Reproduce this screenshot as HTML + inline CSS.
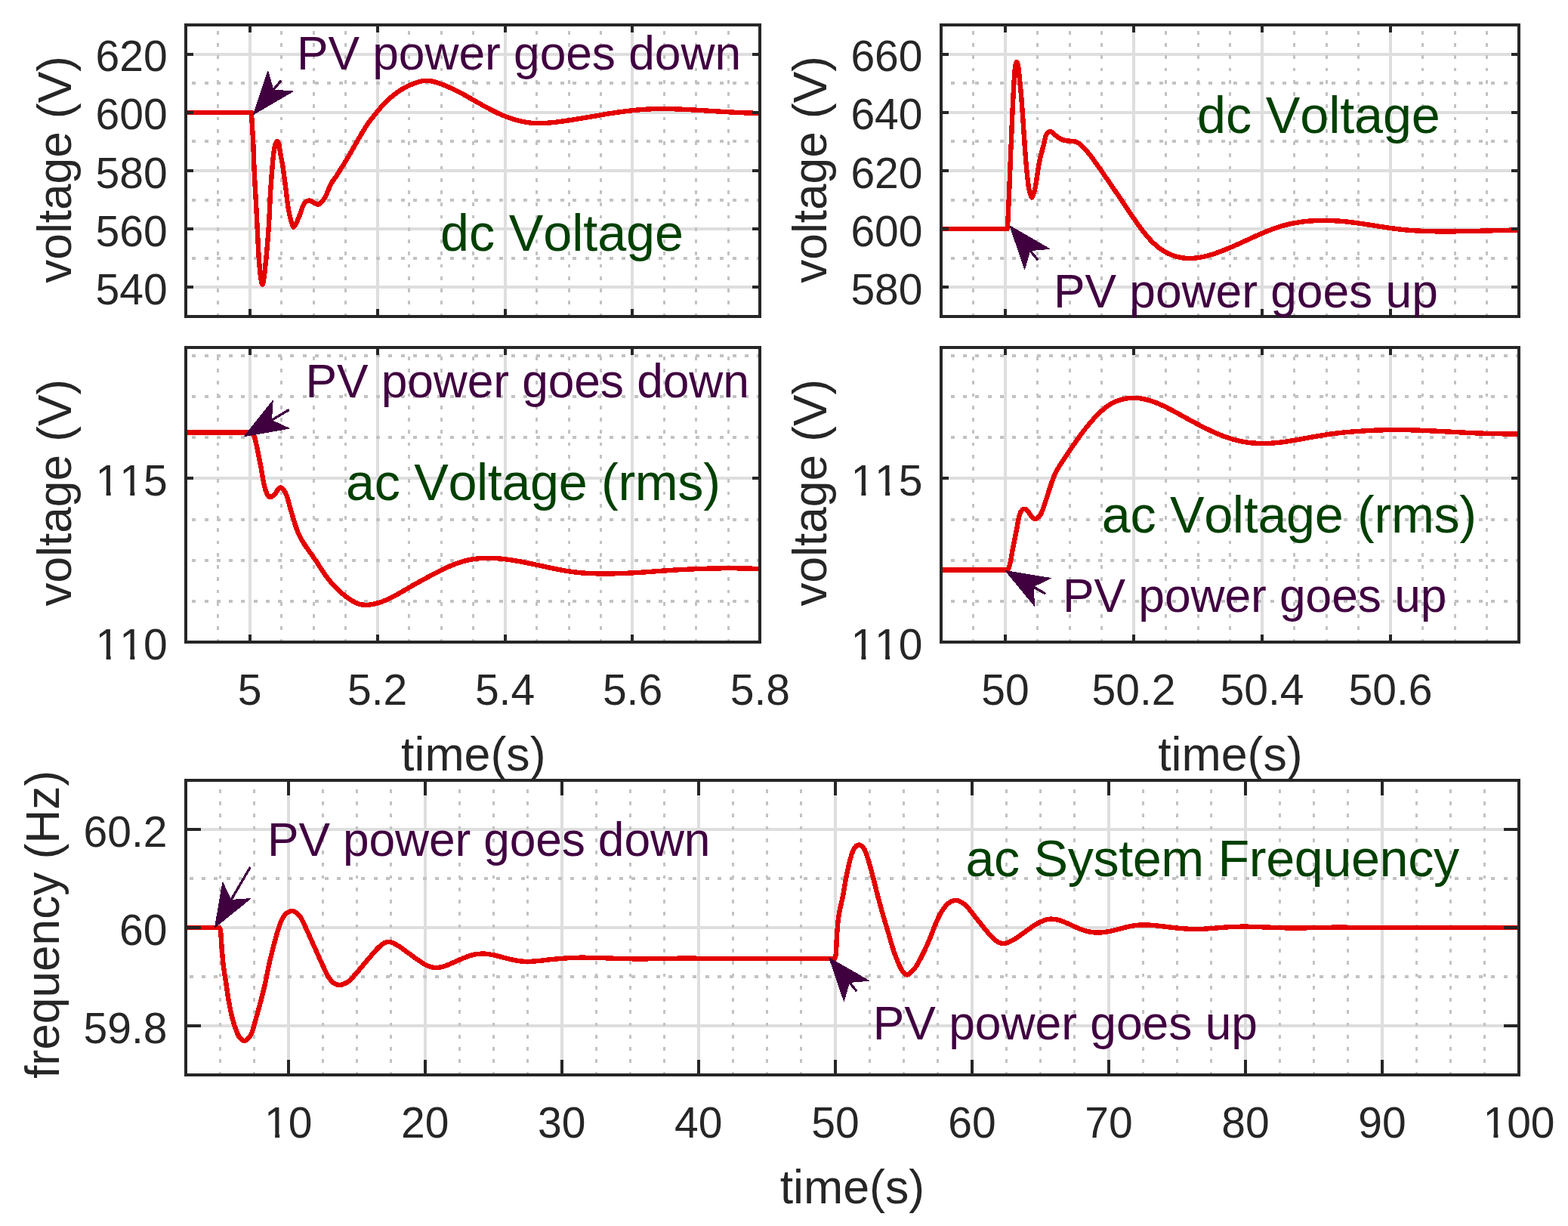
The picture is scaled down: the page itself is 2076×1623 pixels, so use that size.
<!DOCTYPE html>
<html><head><meta charset="utf-8"><style>
html,body{margin:0;padding:0;background:#fff;width:2076px;height:1623px;overflow:hidden}
svg{display:block}
text{font-family:'Liberation Sans', Arial, Helvetica, sans-serif;font-kerning:none;}
.tk{font-size:57px;fill:#262626}
.lb{font-size:62.7px;fill:#262626}
.yl{font-size:62.2px}
.pv{font-size:62.3px;fill:#400040}
.tt{font-size:68.3px;fill:#004000}
</style></head><body>
<svg width="2076" height="1623" viewBox="0 0 2076 1623">
<rect width="2076" height="1623" fill="#fff"/>
<g id="s1">
<line x1="330.67" y1="33" x2="330.67" y2="419" stroke="#dedede" stroke-width="4" shape-rendering="crispEdges"/>
<line x1="499.60" y1="33" x2="499.60" y2="419" stroke="#dedede" stroke-width="4" shape-rendering="crispEdges"/>
<line x1="668.53" y1="33" x2="668.53" y2="419" stroke="#dedede" stroke-width="4" shape-rendering="crispEdges"/>
<line x1="837.47" y1="33" x2="837.47" y2="419" stroke="#dedede" stroke-width="4" shape-rendering="crispEdges"/>
<line x1="246.2" y1="380.40" x2="1006.4" y2="380.40" stroke="#dedede" stroke-width="4" shape-rendering="crispEdges"/>
<line x1="246.2" y1="303.20" x2="1006.4" y2="303.20" stroke="#dedede" stroke-width="4" shape-rendering="crispEdges"/>
<line x1="246.2" y1="226.00" x2="1006.4" y2="226.00" stroke="#dedede" stroke-width="4" shape-rendering="crispEdges"/>
<line x1="246.2" y1="148.80" x2="1006.4" y2="148.80" stroke="#dedede" stroke-width="4" shape-rendering="crispEdges"/>
<line x1="246.2" y1="71.60" x2="1006.4" y2="71.60" stroke="#dedede" stroke-width="4" shape-rendering="crispEdges"/>
<line x1="288.43" y1="419.5" x2="288.43" y2="33" stroke="#c2c2c2" stroke-width="3" shape-rendering="crispEdges" stroke-dasharray="4.8 11.46"/>
<line x1="372.90" y1="419.5" x2="372.90" y2="33" stroke="#c2c2c2" stroke-width="3" shape-rendering="crispEdges" stroke-dasharray="4.8 11.46"/>
<line x1="415.13" y1="419.5" x2="415.13" y2="33" stroke="#c2c2c2" stroke-width="3" shape-rendering="crispEdges" stroke-dasharray="4.8 11.46"/>
<line x1="457.37" y1="419.5" x2="457.37" y2="33" stroke="#c2c2c2" stroke-width="3" shape-rendering="crispEdges" stroke-dasharray="4.8 11.46"/>
<line x1="541.83" y1="419.5" x2="541.83" y2="33" stroke="#c2c2c2" stroke-width="3" shape-rendering="crispEdges" stroke-dasharray="4.8 11.46"/>
<line x1="584.07" y1="419.5" x2="584.07" y2="33" stroke="#c2c2c2" stroke-width="3" shape-rendering="crispEdges" stroke-dasharray="4.8 11.46"/>
<line x1="626.30" y1="419.5" x2="626.30" y2="33" stroke="#c2c2c2" stroke-width="3" shape-rendering="crispEdges" stroke-dasharray="4.8 11.46"/>
<line x1="710.77" y1="419.5" x2="710.77" y2="33" stroke="#c2c2c2" stroke-width="3" shape-rendering="crispEdges" stroke-dasharray="4.8 11.46"/>
<line x1="753.00" y1="419.5" x2="753.00" y2="33" stroke="#c2c2c2" stroke-width="3" shape-rendering="crispEdges" stroke-dasharray="4.8 11.46"/>
<line x1="795.23" y1="419.5" x2="795.23" y2="33" stroke="#c2c2c2" stroke-width="3" shape-rendering="crispEdges" stroke-dasharray="4.8 11.46"/>
<line x1="879.70" y1="419.5" x2="879.70" y2="33" stroke="#c2c2c2" stroke-width="3" shape-rendering="crispEdges" stroke-dasharray="4.8 11.46"/>
<line x1="921.93" y1="419.5" x2="921.93" y2="33" stroke="#c2c2c2" stroke-width="3" shape-rendering="crispEdges" stroke-dasharray="4.8 11.46"/>
<line x1="964.17" y1="419.5" x2="964.17" y2="33" stroke="#c2c2c2" stroke-width="3" shape-rendering="crispEdges" stroke-dasharray="4.8 11.46"/>
<line x1="1007.1999999999999" y1="341.80" x2="246.2" y2="341.80" stroke="#c2c2c2" stroke-width="4" shape-rendering="crispEdges" stroke-dasharray="5 11.26"/>
<line x1="1007.1999999999999" y1="264.60" x2="246.2" y2="264.60" stroke="#c2c2c2" stroke-width="4" shape-rendering="crispEdges" stroke-dasharray="5 11.26"/>
<line x1="1007.1999999999999" y1="187.40" x2="246.2" y2="187.40" stroke="#c2c2c2" stroke-width="4" shape-rendering="crispEdges" stroke-dasharray="5 11.26"/>
<line x1="1007.1999999999999" y1="110.20" x2="246.2" y2="110.20" stroke="#c2c2c2" stroke-width="4" shape-rendering="crispEdges" stroke-dasharray="5 11.26"/>
<clipPath id="cs1"><rect x="246.2" y="33" width="760.2" height="386"/></clipPath>
<path d="M244.00,149.00C244.00,149.00 333.00,149.00 333.00,149.00C333.00,149.00 333.17,153.67 333.30,156.00C333.90,166.67 334.68,177.33 335.20,188.00C335.72,198.69 335.93,209.40 336.40,220.10C336.87,230.77 337.43,241.44 338.00,252.10C338.23,256.40 338.57,260.70 338.80,265.00C339.37,275.66 339.87,286.33 340.40,297.00C340.93,307.67 341.39,318.34 342.00,329.00C342.46,337.04 342.92,345.08 343.60,353.10C344.02,358.08 344.51,363.07 345.30,368.00C345.78,370.97 346.70,376.80 347.40,376.80C348.10,376.80 349.02,370.97 349.50,368.00C350.29,363.07 350.68,358.07 351.20,353.10C352.04,345.07 352.91,337.04 353.60,329.00C354.51,318.34 355.33,307.67 356.00,297.00C356.56,288.01 356.86,279.00 357.30,270.00C357.59,264.03 357.81,258.06 358.20,252.10C358.91,241.43 359.71,230.76 360.60,220.10C361.05,214.76 361.56,209.42 362.20,204.10C362.56,201.05 362.98,198.00 363.60,195.00C363.98,193.13 364.46,191.23 365.20,189.50C365.59,188.59 366.40,187.10 367.00,187.10C367.60,187.10 368.47,188.58 368.80,189.50C369.54,191.58 369.81,193.89 370.20,196.10C370.67,198.75 370.94,201.44 371.40,204.10C372.34,209.44 373.58,214.74 374.40,220.10C376.02,230.74 377.33,241.43 378.70,252.10C379.29,256.73 379.67,261.38 380.30,266.00C380.94,270.68 381.61,275.36 382.50,280.00C383.34,284.36 384.25,288.75 385.50,293.00C386.28,295.65 387.32,300.11 388.60,300.70C389.49,301.11 391.08,297.69 392.00,296.00C393.38,293.46 394.36,290.68 395.50,288.00C396.32,286.08 397.19,284.17 397.90,282.20C398.93,279.33 399.51,276.28 400.70,273.50C401.54,271.55 402.51,269.42 404.00,268.00C405.38,266.68 407.51,265.33 409.30,265.30C411.14,265.27 413.04,266.95 414.90,267.80C416.97,268.75 419.12,270.79 421.10,270.70C422.82,270.62 424.66,268.72 426.00,267.30C427.86,265.32 429.33,262.88 430.70,260.50C431.93,258.35 432.81,255.98 433.80,253.70C434.78,251.45 435.55,249.11 436.60,246.90C437.68,244.61 438.85,242.34 440.20,240.20C441.69,237.84 443.53,235.71 445.10,233.40C446.27,231.68 447.30,229.87 448.40,228.10C451.73,222.77 455.15,217.48 458.40,212.10C461.59,206.82 464.61,201.44 467.70,196.10C470.78,190.77 473.74,185.38 476.90,180.10C480.14,174.68 483.29,169.17 486.90,164.00C490.76,158.47 495.02,153.21 499.30,148.00C502.66,143.92 506.11,139.89 509.83,136.14C513.62,132.30 517.58,128.53 521.83,125.22C526.03,121.96 530.55,119.03 535.17,116.42C539.28,114.10 543.63,112.13 548.03,110.44C551.53,109.08 555.19,107.84 558.87,107.27C562.24,106.74 565.82,106.66 569.19,107.14C573.59,107.75 577.96,109.10 582.19,110.55C587.52,112.38 592.73,114.64 597.86,116.99C603.01,119.35 608.04,121.99 613.04,124.66C617.55,127.06 621.94,129.67 626.38,132.19C630.61,134.59 634.80,137.05 639.06,139.39C643.33,141.74 647.61,144.08 651.97,146.26C656.26,148.42 660.58,150.53 665.00,152.40C669.28,154.21 673.65,155.90 678.07,157.33C682.29,158.69 686.61,159.84 690.94,160.77C694.98,161.63 699.08,162.31 703.19,162.72C707.42,163.14 711.71,163.33 715.97,163.24C721.59,163.12 727.23,162.67 732.82,162.07C740.54,161.24 748.23,160.11 755.91,158.93C765.06,157.53 774.18,155.86 783.31,154.33C792.77,152.75 802.20,151.02 811.67,149.60C820.51,148.28 829.37,147.04 838.26,146.09C845.89,145.28 853.55,144.68 861.21,144.32C868.15,143.99 875.11,143.96 882.06,144.04C889.76,144.13 897.45,144.47 905.14,144.82C914.06,145.23 922.98,145.80 931.90,146.32C941.12,146.87 950.33,147.51 959.54,148.03C968.02,148.51 976.50,148.96 984.98,149.30C992.65,149.61 1008.00,150.00 1008.00,150.00" fill="none" stroke="#e40000" stroke-width="6.4" shape-rendering="crispEdges" stroke-linejoin="round" stroke-linecap="round" clip-path="url(#cs1)"/>
<path d="M246.2,33H1006.4V419H246.2ZM330.67,419v-8M330.67,33v8M499.60,419v-8M499.60,33v8M668.53,419v-8M668.53,33v8M837.47,419v-8M837.47,33v8M246.2,380.40h8M1006.4,380.40h-8M246.2,303.20h8M1006.4,303.20h-8M246.2,226.00h8M1006.4,226.00h-8M246.2,148.80h8M1006.4,148.80h-8M246.2,71.60h8M1006.4,71.60h-8" fill="none" stroke="#262626" stroke-width="4" stroke-linecap="square" shape-rendering="crispEdges"/>
<text x="221.7" y="402.9" text-anchor="end" class="tk">540</text>
<text x="221.7" y="325.7" text-anchor="end" class="tk">560</text>
<text x="221.7" y="248.5" text-anchor="end" class="tk">580</text>
<text x="221.7" y="171.3" text-anchor="end" class="tk">600</text>
<text x="221.7" y="94.1" text-anchor="end" class="tk">620</text>
</g>
<g id="s2">
<line x1="1331.00" y1="33" x2="1331.00" y2="419" stroke="#dedede" stroke-width="4" shape-rendering="crispEdges"/>
<line x1="1501.00" y1="33" x2="1501.00" y2="419" stroke="#dedede" stroke-width="4" shape-rendering="crispEdges"/>
<line x1="1671.00" y1="33" x2="1671.00" y2="419" stroke="#dedede" stroke-width="4" shape-rendering="crispEdges"/>
<line x1="1841.00" y1="33" x2="1841.00" y2="419" stroke="#dedede" stroke-width="4" shape-rendering="crispEdges"/>
<line x1="1246" y1="380.40" x2="2011" y2="380.40" stroke="#dedede" stroke-width="4" shape-rendering="crispEdges"/>
<line x1="1246" y1="303.20" x2="2011" y2="303.20" stroke="#dedede" stroke-width="4" shape-rendering="crispEdges"/>
<line x1="1246" y1="226.00" x2="2011" y2="226.00" stroke="#dedede" stroke-width="4" shape-rendering="crispEdges"/>
<line x1="1246" y1="148.80" x2="2011" y2="148.80" stroke="#dedede" stroke-width="4" shape-rendering="crispEdges"/>
<line x1="1246" y1="71.60" x2="2011" y2="71.60" stroke="#dedede" stroke-width="4" shape-rendering="crispEdges"/>
<line x1="1288.50" y1="419.5" x2="1288.50" y2="33" stroke="#c2c2c2" stroke-width="3" shape-rendering="crispEdges" stroke-dasharray="4.8 11.46"/>
<line x1="1373.50" y1="419.5" x2="1373.50" y2="33" stroke="#c2c2c2" stroke-width="3" shape-rendering="crispEdges" stroke-dasharray="4.8 11.46"/>
<line x1="1416.00" y1="419.5" x2="1416.00" y2="33" stroke="#c2c2c2" stroke-width="3" shape-rendering="crispEdges" stroke-dasharray="4.8 11.46"/>
<line x1="1458.50" y1="419.5" x2="1458.50" y2="33" stroke="#c2c2c2" stroke-width="3" shape-rendering="crispEdges" stroke-dasharray="4.8 11.46"/>
<line x1="1543.50" y1="419.5" x2="1543.50" y2="33" stroke="#c2c2c2" stroke-width="3" shape-rendering="crispEdges" stroke-dasharray="4.8 11.46"/>
<line x1="1586.00" y1="419.5" x2="1586.00" y2="33" stroke="#c2c2c2" stroke-width="3" shape-rendering="crispEdges" stroke-dasharray="4.8 11.46"/>
<line x1="1628.50" y1="419.5" x2="1628.50" y2="33" stroke="#c2c2c2" stroke-width="3" shape-rendering="crispEdges" stroke-dasharray="4.8 11.46"/>
<line x1="1713.50" y1="419.5" x2="1713.50" y2="33" stroke="#c2c2c2" stroke-width="3" shape-rendering="crispEdges" stroke-dasharray="4.8 11.46"/>
<line x1="1756.00" y1="419.5" x2="1756.00" y2="33" stroke="#c2c2c2" stroke-width="3" shape-rendering="crispEdges" stroke-dasharray="4.8 11.46"/>
<line x1="1798.50" y1="419.5" x2="1798.50" y2="33" stroke="#c2c2c2" stroke-width="3" shape-rendering="crispEdges" stroke-dasharray="4.8 11.46"/>
<line x1="1883.50" y1="419.5" x2="1883.50" y2="33" stroke="#c2c2c2" stroke-width="3" shape-rendering="crispEdges" stroke-dasharray="4.8 11.46"/>
<line x1="1926.00" y1="419.5" x2="1926.00" y2="33" stroke="#c2c2c2" stroke-width="3" shape-rendering="crispEdges" stroke-dasharray="4.8 11.46"/>
<line x1="1968.50" y1="419.5" x2="1968.50" y2="33" stroke="#c2c2c2" stroke-width="3" shape-rendering="crispEdges" stroke-dasharray="4.8 11.46"/>
<line x1="2011.8" y1="341.80" x2="1246" y2="341.80" stroke="#c2c2c2" stroke-width="4" shape-rendering="crispEdges" stroke-dasharray="5 11.26"/>
<line x1="2011.8" y1="264.60" x2="1246" y2="264.60" stroke="#c2c2c2" stroke-width="4" shape-rendering="crispEdges" stroke-dasharray="5 11.26"/>
<line x1="2011.8" y1="187.40" x2="1246" y2="187.40" stroke="#c2c2c2" stroke-width="4" shape-rendering="crispEdges" stroke-dasharray="5 11.26"/>
<line x1="2011.8" y1="110.20" x2="1246" y2="110.20" stroke="#c2c2c2" stroke-width="4" shape-rendering="crispEdges" stroke-dasharray="5 11.26"/>
<clipPath id="cs2"><rect x="1246" y="33" width="765" height="386"/></clipPath>
<path d="M1244.00,303.20C1244.00,303.20 1333.50,303.20 1333.50,303.20C1333.50,303.20 1334.21,296.27 1334.40,292.80C1334.97,282.54 1335.35,272.27 1335.80,262.00C1336.25,251.73 1336.70,241.47 1337.10,231.20C1337.50,220.93 1337.78,210.66 1338.20,200.40C1338.41,195.26 1338.78,190.14 1339.00,185.00C1339.38,176.24 1339.62,167.46 1340.00,158.70C1340.42,148.83 1340.88,138.96 1341.40,129.10C1341.92,119.26 1342.43,109.43 1343.10,99.60C1343.36,95.73 1343.54,91.81 1344.20,88.00C1344.57,85.87 1345.53,81.80 1346.20,81.80C1346.87,81.80 1347.82,85.87 1348.20,88.00C1348.88,91.81 1349.01,95.73 1349.40,99.60C1350.38,109.43 1351.47,119.26 1352.30,129.10C1353.13,138.96 1353.71,148.83 1354.40,158.70C1355.01,167.47 1355.57,176.24 1356.20,185.00C1356.94,195.27 1357.58,205.55 1358.50,215.80C1359.42,226.08 1360.35,236.38 1361.70,246.60C1362.12,249.78 1362.88,252.94 1363.80,256.00C1364.38,257.94 1365.40,261.60 1366.20,261.60C1367.00,261.60 1367.98,257.93 1368.60,256.00C1369.58,252.93 1370.43,249.78 1371.00,246.60C1372.83,236.38 1373.92,226.01 1375.80,215.80C1376.78,210.48 1378.29,205.25 1379.60,200.00C1380.19,197.65 1380.92,195.35 1381.50,193.00C1382.15,190.35 1382.67,187.66 1383.30,185.00C1383.70,183.33 1383.95,181.58 1384.60,180.00C1385.19,178.58 1385.90,177.00 1387.00,176.00C1388.07,175.03 1389.81,173.95 1391.10,174.10C1392.48,174.26 1393.76,175.94 1395.02,176.93C1396.43,178.04 1397.70,179.31 1399.11,180.40C1400.68,181.61 1402.21,182.95 1403.96,183.83C1405.90,184.81 1408.06,185.52 1410.19,185.98C1412.47,186.48 1414.87,186.47 1417.20,186.73C1419.29,186.96 1421.46,186.94 1423.46,187.47C1425.21,187.94 1426.95,188.74 1428.48,189.71C1430.09,190.74 1431.48,192.16 1432.87,193.49C1434.41,194.97 1435.86,196.54 1437.26,198.14C1439.14,200.27 1440.97,202.45 1442.71,204.70C1445.53,208.35 1448.25,212.10 1450.94,215.86C1454.83,221.29 1458.63,226.80 1462.44,232.29C1466.87,238.68 1471.28,245.08 1475.66,251.50C1480.13,258.03 1484.55,264.59 1488.99,271.15C1493.34,277.58 1497.57,284.10 1502.03,290.46C1506.24,296.47 1510.39,302.56 1515.00,308.25C1519.05,313.26 1523.31,318.19 1528.00,322.57C1531.97,326.28 1536.38,329.68 1541.00,332.53C1545.05,335.03 1549.51,337.05 1554.00,338.60C1558.17,340.05 1562.61,340.98 1567.00,341.53C1571.28,342.07 1575.69,342.11 1580.00,341.85C1584.35,341.60 1588.72,340.88 1593.00,339.99C1597.39,339.07 1601.72,337.78 1606.00,336.41C1610.39,335.02 1614.70,333.38 1619.00,331.71C1623.37,330.02 1627.69,328.19 1632.00,326.35C1636.36,324.48 1640.68,322.51 1645.00,320.56C1649.36,318.59 1653.69,316.55 1658.04,314.58C1662.34,312.65 1666.63,310.69 1670.96,308.85C1675.10,307.09 1679.26,305.36 1683.48,303.79C1687.72,302.21 1691.99,300.67 1696.33,299.41C1701.43,297.93 1706.60,296.57 1711.82,295.58C1718.28,294.36 1724.82,293.38 1731.36,292.79C1738.72,292.12 1746.15,291.81 1753.54,291.82C1761.05,291.84 1768.58,292.26 1776.06,292.87C1783.47,293.47 1790.85,294.44 1798.21,295.43C1805.54,296.42 1812.83,297.67 1820.14,298.79C1827.36,299.89 1834.56,301.14 1841.80,302.11C1849.11,303.09 1856.44,304.01 1863.79,304.64C1871.76,305.32 1879.76,305.76 1887.76,306.04C1896.68,306.35 1905.62,306.41 1914.55,306.42C1924.35,306.42 1934.16,306.25 1943.96,306.07C1954.89,305.88 1965.83,305.57 1976.76,305.29C1988.84,304.98 2013.00,304.30 2013.00,304.30" fill="none" stroke="#e40000" stroke-width="6.4" shape-rendering="crispEdges" stroke-linejoin="round" stroke-linecap="round" clip-path="url(#cs2)"/>
<path d="M1246,33H2011V419H1246ZM1331.00,419v-8M1331.00,33v8M1501.00,419v-8M1501.00,33v8M1671.00,419v-8M1671.00,33v8M1841.00,419v-8M1841.00,33v8M1246,380.40h8M2011,380.40h-8M1246,303.20h8M2011,303.20h-8M1246,226.00h8M2011,226.00h-8M1246,148.80h8M2011,148.80h-8M1246,71.60h8M2011,71.60h-8" fill="none" stroke="#262626" stroke-width="4" stroke-linecap="square" shape-rendering="crispEdges"/>
<text x="1221.5" y="402.9" text-anchor="end" class="tk">580</text>
<text x="1221.5" y="325.7" text-anchor="end" class="tk">600</text>
<text x="1221.5" y="248.5" text-anchor="end" class="tk">620</text>
<text x="1221.5" y="171.3" text-anchor="end" class="tk">640</text>
<text x="1221.5" y="94.1" text-anchor="end" class="tk">660</text>
</g>
<g id="s3">
<line x1="330.67" y1="460" x2="330.67" y2="850" stroke="#dedede" stroke-width="4" shape-rendering="crispEdges"/>
<line x1="499.60" y1="460" x2="499.60" y2="850" stroke="#dedede" stroke-width="4" shape-rendering="crispEdges"/>
<line x1="668.53" y1="460" x2="668.53" y2="850" stroke="#dedede" stroke-width="4" shape-rendering="crispEdges"/>
<line x1="837.47" y1="460" x2="837.47" y2="850" stroke="#dedede" stroke-width="4" shape-rendering="crispEdges"/>
<line x1="246.2" y1="633.33" x2="1006.4" y2="633.33" stroke="#dedede" stroke-width="4" shape-rendering="crispEdges"/>
<line x1="288.43" y1="850.5" x2="288.43" y2="460" stroke="#c2c2c2" stroke-width="3" shape-rendering="crispEdges" stroke-dasharray="4.8 11.46"/>
<line x1="372.90" y1="850.5" x2="372.90" y2="460" stroke="#c2c2c2" stroke-width="3" shape-rendering="crispEdges" stroke-dasharray="4.8 11.46"/>
<line x1="415.13" y1="850.5" x2="415.13" y2="460" stroke="#c2c2c2" stroke-width="3" shape-rendering="crispEdges" stroke-dasharray="4.8 11.46"/>
<line x1="457.37" y1="850.5" x2="457.37" y2="460" stroke="#c2c2c2" stroke-width="3" shape-rendering="crispEdges" stroke-dasharray="4.8 11.46"/>
<line x1="541.83" y1="850.5" x2="541.83" y2="460" stroke="#c2c2c2" stroke-width="3" shape-rendering="crispEdges" stroke-dasharray="4.8 11.46"/>
<line x1="584.07" y1="850.5" x2="584.07" y2="460" stroke="#c2c2c2" stroke-width="3" shape-rendering="crispEdges" stroke-dasharray="4.8 11.46"/>
<line x1="626.30" y1="850.5" x2="626.30" y2="460" stroke="#c2c2c2" stroke-width="3" shape-rendering="crispEdges" stroke-dasharray="4.8 11.46"/>
<line x1="710.77" y1="850.5" x2="710.77" y2="460" stroke="#c2c2c2" stroke-width="3" shape-rendering="crispEdges" stroke-dasharray="4.8 11.46"/>
<line x1="753.00" y1="850.5" x2="753.00" y2="460" stroke="#c2c2c2" stroke-width="3" shape-rendering="crispEdges" stroke-dasharray="4.8 11.46"/>
<line x1="795.23" y1="850.5" x2="795.23" y2="460" stroke="#c2c2c2" stroke-width="3" shape-rendering="crispEdges" stroke-dasharray="4.8 11.46"/>
<line x1="879.70" y1="850.5" x2="879.70" y2="460" stroke="#c2c2c2" stroke-width="3" shape-rendering="crispEdges" stroke-dasharray="4.8 11.46"/>
<line x1="921.93" y1="850.5" x2="921.93" y2="460" stroke="#c2c2c2" stroke-width="3" shape-rendering="crispEdges" stroke-dasharray="4.8 11.46"/>
<line x1="964.17" y1="850.5" x2="964.17" y2="460" stroke="#c2c2c2" stroke-width="3" shape-rendering="crispEdges" stroke-dasharray="4.8 11.46"/>
<line x1="1007.1999999999999" y1="795.83" x2="246.2" y2="795.83" stroke="#c2c2c2" stroke-width="4" shape-rendering="crispEdges" stroke-dasharray="5 11.26"/>
<line x1="1007.1999999999999" y1="741.67" x2="246.2" y2="741.67" stroke="#c2c2c2" stroke-width="4" shape-rendering="crispEdges" stroke-dasharray="5 11.26"/>
<line x1="1007.1999999999999" y1="687.50" x2="246.2" y2="687.50" stroke="#c2c2c2" stroke-width="4" shape-rendering="crispEdges" stroke-dasharray="5 11.26"/>
<line x1="1007.1999999999999" y1="579.17" x2="246.2" y2="579.17" stroke="#c2c2c2" stroke-width="4" shape-rendering="crispEdges" stroke-dasharray="5 11.26"/>
<line x1="1007.1999999999999" y1="525.00" x2="246.2" y2="525.00" stroke="#c2c2c2" stroke-width="4" shape-rendering="crispEdges" stroke-dasharray="5 11.26"/>
<line x1="1007.1999999999999" y1="470.83" x2="246.2" y2="470.83" stroke="#c2c2c2" stroke-width="4" shape-rendering="crispEdges" stroke-dasharray="5 11.26"/>
<clipPath id="cs3"><rect x="246.2" y="460" width="760.2" height="390"/></clipPath>
<path d="M244.00,572.60C244.00,572.60 333.00,572.60 333.00,572.60C333.00,572.60 334.53,573.73 335.00,574.50C335.97,576.09 336.81,577.88 337.30,579.70C339.04,586.18 340.32,592.82 341.70,599.40C343.08,605.98 344.36,612.59 345.60,619.20C346.83,625.76 347.74,632.37 349.10,638.90C349.88,642.64 350.79,646.39 352.00,650.00C352.76,652.25 353.76,654.52 355.00,656.50C355.43,657.19 356.26,657.83 357.00,658.00C357.76,658.17 358.78,657.92 359.50,657.50C361.25,656.48 363.04,655.22 364.40,653.70C365.88,652.05 366.59,649.72 368.00,648.00C368.89,646.92 370.13,645.48 371.30,645.30C372.30,645.15 373.67,646.17 374.50,647.00C375.74,648.24 376.72,649.89 377.50,651.50C378.82,654.22 379.87,657.11 380.80,660.00C381.91,663.44 382.60,667.02 383.60,670.50C384.60,673.99 385.74,677.45 386.79,680.93C387.84,684.41 388.79,687.93 389.88,691.40C390.99,694.92 392.03,698.47 393.37,701.90C394.77,705.46 396.32,709.00 398.12,712.38C400.02,715.95 402.25,719.37 404.49,722.76C406.83,726.30 409.43,729.68 411.87,733.16C414.40,736.78 416.94,740.40 419.41,744.06C421.97,747.87 424.36,751.79 426.94,755.58C429.53,759.38 432.06,763.24 434.90,766.85C437.71,770.44 440.71,773.92 443.90,777.19C447.20,780.56 450.71,783.78 454.35,786.77C457.87,789.67 461.52,792.50 465.41,794.87C468.57,796.80 471.98,798.55 475.49,799.67C478.28,800.56 481.35,800.85 484.30,800.92C487.10,800.98 489.96,800.53 492.74,800.05C495.64,799.56 498.53,798.85 501.34,798.00C504.29,797.12 507.19,796.04 510.02,794.85C512.97,793.63 515.85,792.22 518.70,790.78C521.65,789.30 524.54,787.71 527.41,786.10C530.33,784.48 533.20,782.77 536.09,781.09C538.92,779.44 541.73,777.74 544.57,776.10C547.38,774.48 550.21,772.89 553.05,771.32C556.12,769.63 559.21,767.97 562.30,766.30C565.83,764.39 569.35,762.46 572.91,760.59C576.75,758.56 580.58,756.52 584.48,754.61C588.35,752.72 592.24,750.87 596.21,749.20C600.02,747.60 603.89,746.08 607.82,744.78C611.61,743.53 615.48,742.41 619.37,741.54C623.18,740.68 627.05,740.04 630.93,739.58C634.75,739.12 638.62,738.89 642.47,738.79C646.32,738.68 650.18,738.77 654.03,738.95C657.89,739.13 661.75,739.48 665.60,739.89C669.47,740.30 673.33,740.85 677.17,741.43C681.03,742.01 684.88,742.67 688.73,743.37C692.58,744.06 696.43,744.82 700.27,745.61C704.13,746.39 707.98,747.24 711.83,748.08C715.69,748.92 719.54,749.81 723.40,750.64C727.27,751.48 731.14,752.32 735.02,753.09C738.83,753.86 742.66,754.59 746.50,755.25C750.17,755.89 753.85,756.49 757.55,756.99C761.33,757.50 765.11,757.95 768.91,758.27C773.61,758.67 778.32,758.97 783.04,759.14C789.26,759.37 795.50,759.48 801.73,759.46C809.05,759.45 816.37,759.30 823.69,759.04C831.25,758.77 838.81,758.34 846.36,757.87C853.80,757.42 861.23,756.80 868.67,756.28C876.06,755.75 883.45,755.18 890.84,754.73C898.21,754.28 905.57,753.89 912.94,753.55C920.20,753.23 927.46,752.96 934.72,752.75C942.09,752.54 949.46,752.35 956.83,752.29C964.91,752.22 973.01,752.26 981.09,752.37C990.06,752.50 1008.00,753.00 1008.00,753.00" fill="none" stroke="#e40000" stroke-width="6.4" shape-rendering="crispEdges" stroke-linejoin="round" stroke-linecap="round" clip-path="url(#cs3)"/>
<path d="M246.2,460H1006.4V850H246.2ZM330.67,850v-8M330.67,460v8M499.60,850v-8M499.60,460v8M668.53,850v-8M668.53,460v8M837.47,850v-8M837.47,460v8M246.2,633.33h8M1006.4,633.33h-8" fill="none" stroke="#262626" stroke-width="4" stroke-linecap="square" shape-rendering="crispEdges"/>
<text x="221.7" y="872.5" text-anchor="end" class="tk">110</text>
<rect x="129.62" y="866.90" width="11.00" height="6.10" fill="#fff"/>
<rect x="146.62" y="866.90" width="10.00" height="6.10" fill="#fff"/>
<rect x="161.32" y="866.90" width="11.00" height="6.10" fill="#fff"/>
<rect x="178.32" y="866.90" width="10.00" height="6.10" fill="#fff"/>
<text x="221.7" y="655.8" text-anchor="end" class="tk">115</text>
<rect x="129.62" y="650.20" width="11.00" height="6.10" fill="#fff"/>
<rect x="146.62" y="650.20" width="10.00" height="6.10" fill="#fff"/>
<rect x="161.32" y="650.20" width="11.00" height="6.10" fill="#fff"/>
<rect x="178.32" y="650.20" width="10.00" height="6.10" fill="#fff"/>
<text x="330.7" y="932.7" text-anchor="middle" class="tk">5</text>
<text x="499.6" y="932.7" text-anchor="middle" class="tk">5.2</text>
<text x="668.5" y="932.7" text-anchor="middle" class="tk">5.4</text>
<text x="837.5" y="932.7" text-anchor="middle" class="tk">5.6</text>
<text x="1006.4" y="932.7" text-anchor="middle" class="tk">5.8</text>
</g>
<g id="s4">
<line x1="1331.00" y1="460" x2="1331.00" y2="850" stroke="#dedede" stroke-width="4" shape-rendering="crispEdges"/>
<line x1="1501.00" y1="460" x2="1501.00" y2="850" stroke="#dedede" stroke-width="4" shape-rendering="crispEdges"/>
<line x1="1671.00" y1="460" x2="1671.00" y2="850" stroke="#dedede" stroke-width="4" shape-rendering="crispEdges"/>
<line x1="1841.00" y1="460" x2="1841.00" y2="850" stroke="#dedede" stroke-width="4" shape-rendering="crispEdges"/>
<line x1="1246" y1="633.33" x2="2011" y2="633.33" stroke="#dedede" stroke-width="4" shape-rendering="crispEdges"/>
<line x1="1288.50" y1="850.5" x2="1288.50" y2="460" stroke="#c2c2c2" stroke-width="3" shape-rendering="crispEdges" stroke-dasharray="4.8 11.46"/>
<line x1="1373.50" y1="850.5" x2="1373.50" y2="460" stroke="#c2c2c2" stroke-width="3" shape-rendering="crispEdges" stroke-dasharray="4.8 11.46"/>
<line x1="1416.00" y1="850.5" x2="1416.00" y2="460" stroke="#c2c2c2" stroke-width="3" shape-rendering="crispEdges" stroke-dasharray="4.8 11.46"/>
<line x1="1458.50" y1="850.5" x2="1458.50" y2="460" stroke="#c2c2c2" stroke-width="3" shape-rendering="crispEdges" stroke-dasharray="4.8 11.46"/>
<line x1="1543.50" y1="850.5" x2="1543.50" y2="460" stroke="#c2c2c2" stroke-width="3" shape-rendering="crispEdges" stroke-dasharray="4.8 11.46"/>
<line x1="1586.00" y1="850.5" x2="1586.00" y2="460" stroke="#c2c2c2" stroke-width="3" shape-rendering="crispEdges" stroke-dasharray="4.8 11.46"/>
<line x1="1628.50" y1="850.5" x2="1628.50" y2="460" stroke="#c2c2c2" stroke-width="3" shape-rendering="crispEdges" stroke-dasharray="4.8 11.46"/>
<line x1="1713.50" y1="850.5" x2="1713.50" y2="460" stroke="#c2c2c2" stroke-width="3" shape-rendering="crispEdges" stroke-dasharray="4.8 11.46"/>
<line x1="1756.00" y1="850.5" x2="1756.00" y2="460" stroke="#c2c2c2" stroke-width="3" shape-rendering="crispEdges" stroke-dasharray="4.8 11.46"/>
<line x1="1798.50" y1="850.5" x2="1798.50" y2="460" stroke="#c2c2c2" stroke-width="3" shape-rendering="crispEdges" stroke-dasharray="4.8 11.46"/>
<line x1="1883.50" y1="850.5" x2="1883.50" y2="460" stroke="#c2c2c2" stroke-width="3" shape-rendering="crispEdges" stroke-dasharray="4.8 11.46"/>
<line x1="1926.00" y1="850.5" x2="1926.00" y2="460" stroke="#c2c2c2" stroke-width="3" shape-rendering="crispEdges" stroke-dasharray="4.8 11.46"/>
<line x1="1968.50" y1="850.5" x2="1968.50" y2="460" stroke="#c2c2c2" stroke-width="3" shape-rendering="crispEdges" stroke-dasharray="4.8 11.46"/>
<line x1="2011.8" y1="795.83" x2="1246" y2="795.83" stroke="#c2c2c2" stroke-width="4" shape-rendering="crispEdges" stroke-dasharray="5 11.26"/>
<line x1="2011.8" y1="741.67" x2="1246" y2="741.67" stroke="#c2c2c2" stroke-width="4" shape-rendering="crispEdges" stroke-dasharray="5 11.26"/>
<line x1="2011.8" y1="687.50" x2="1246" y2="687.50" stroke="#c2c2c2" stroke-width="4" shape-rendering="crispEdges" stroke-dasharray="5 11.26"/>
<line x1="2011.8" y1="579.17" x2="1246" y2="579.17" stroke="#c2c2c2" stroke-width="4" shape-rendering="crispEdges" stroke-dasharray="5 11.26"/>
<line x1="2011.8" y1="525.00" x2="1246" y2="525.00" stroke="#c2c2c2" stroke-width="4" shape-rendering="crispEdges" stroke-dasharray="5 11.26"/>
<line x1="2011.8" y1="470.83" x2="1246" y2="470.83" stroke="#c2c2c2" stroke-width="4" shape-rendering="crispEdges" stroke-dasharray="5 11.26"/>
<clipPath id="cs4"><rect x="1246" y="460" width="765" height="390"/></clipPath>
<path d="M1244.00,754.40C1244.00,754.40 1334.00,754.40 1334.00,754.40C1334.00,754.40 1335.17,752.88 1335.50,752.00C1336.44,749.48 1337.24,746.85 1337.80,744.20C1338.94,738.88 1339.60,733.45 1340.60,728.10C1341.60,722.75 1342.73,717.43 1343.80,712.10C1344.70,707.60 1345.64,703.11 1346.50,698.60C1347.28,694.51 1347.79,690.36 1348.70,686.30C1349.29,683.66 1349.95,680.96 1351.00,678.50C1351.55,677.20 1352.44,675.87 1353.50,675.00C1354.31,674.34 1355.59,673.82 1356.60,673.90C1357.76,673.99 1359.15,674.63 1360.00,675.50C1361.81,677.33 1363.01,679.88 1364.60,682.00C1365.51,683.21 1366.38,684.52 1367.50,685.50C1368.25,686.15 1369.28,686.90 1370.20,686.90C1371.28,686.90 1372.49,686.12 1373.50,685.50C1374.59,684.82 1375.73,684.02 1376.50,683.00C1377.69,681.42 1378.57,679.53 1379.37,677.68C1380.68,674.67 1381.77,671.54 1382.84,668.42C1384.28,664.25 1385.54,660.01 1386.89,655.80C1388.25,651.53 1389.55,647.23 1390.98,642.99C1392.22,639.31 1393.43,635.62 1394.90,632.03C1396.24,628.77 1397.73,625.55 1399.41,622.45C1401.34,618.91 1403.55,615.51 1405.73,612.11C1408.44,607.92 1411.27,603.80 1414.07,599.67C1417.23,595.01 1420.37,590.35 1423.60,585.75C1426.91,581.05 1430.21,576.34 1433.69,571.77C1436.97,567.45 1440.36,563.20 1443.89,559.08C1446.93,555.54 1450.11,552.11 1453.41,548.81C1456.11,546.10 1458.92,543.45 1461.88,541.03C1464.54,538.86 1467.32,536.78 1470.26,535.04C1473.21,533.30 1476.35,531.79 1479.56,530.58C1482.77,529.38 1486.13,528.46 1489.50,527.81C1492.82,527.17 1496.25,526.77 1499.63,526.73C1503.34,526.68 1507.11,526.95 1510.78,527.54C1515.08,528.24 1519.38,529.29 1523.54,530.61C1528.25,532.10 1532.90,533.95 1537.41,535.98C1542.83,538.42 1548.08,541.25 1553.34,544.03C1560.11,547.62 1566.74,551.47 1573.50,555.09C1581.43,559.32 1589.29,563.72 1597.40,567.59C1605.51,571.46 1613.71,575.32 1622.17,578.31C1630.04,581.10 1638.19,583.43 1646.39,584.92C1654.26,586.36 1662.37,586.99 1670.38,587.11C1678.42,587.24 1686.52,586.55 1694.53,585.70C1702.71,584.82 1710.81,583.30 1718.93,581.93C1726.94,580.58 1734.89,578.90 1742.90,577.54C1750.36,576.28 1757.82,575.05 1765.32,574.07C1772.27,573.16 1779.26,572.47 1786.25,571.85C1793.23,571.24 1800.23,570.77 1807.23,570.36C1814.52,569.93 1821.82,569.57 1829.12,569.35C1836.55,569.13 1843.99,569.02 1851.42,569.04C1858.83,569.06 1866.24,569.25 1873.65,569.48C1881.05,569.72 1888.44,570.08 1895.84,570.43C1903.21,570.78 1910.57,571.19 1917.94,571.57C1925.20,571.94 1932.46,572.35 1939.72,572.69C1947.09,573.04 1954.46,573.41 1961.83,573.66C1969.91,573.93 1978.00,574.14 1986.09,574.27C1995.06,574.42 2013.00,574.50 2013.00,574.50" fill="none" stroke="#e40000" stroke-width="6.4" shape-rendering="crispEdges" stroke-linejoin="round" stroke-linecap="round" clip-path="url(#cs4)"/>
<path d="M1246,460H2011V850H1246ZM1331.00,850v-8M1331.00,460v8M1501.00,850v-8M1501.00,460v8M1671.00,850v-8M1671.00,460v8M1841.00,850v-8M1841.00,460v8M1246,633.33h8M2011,633.33h-8" fill="none" stroke="#262626" stroke-width="4" stroke-linecap="square" shape-rendering="crispEdges"/>
<text x="1221.5" y="872.5" text-anchor="end" class="tk">110</text>
<rect x="1129.42" y="866.90" width="11.00" height="6.10" fill="#fff"/>
<rect x="1146.42" y="866.90" width="10.00" height="6.10" fill="#fff"/>
<rect x="1161.12" y="866.90" width="11.00" height="6.10" fill="#fff"/>
<rect x="1178.12" y="866.90" width="10.00" height="6.10" fill="#fff"/>
<text x="1221.5" y="655.8" text-anchor="end" class="tk">115</text>
<rect x="1129.42" y="650.20" width="11.00" height="6.10" fill="#fff"/>
<rect x="1146.42" y="650.20" width="10.00" height="6.10" fill="#fff"/>
<rect x="1161.12" y="650.20" width="11.00" height="6.10" fill="#fff"/>
<rect x="1178.12" y="650.20" width="10.00" height="6.10" fill="#fff"/>
<text x="1331.0" y="932.7" text-anchor="middle" class="tk">50</text>
<text x="1501.0" y="932.7" text-anchor="middle" class="tk">50.2</text>
<text x="1671.0" y="932.7" text-anchor="middle" class="tk">50.4</text>
<text x="1841.0" y="932.7" text-anchor="middle" class="tk">50.6</text>
</g>
<g id="s5">
<line x1="381.77" y1="1033" x2="381.77" y2="1423" stroke="#dedede" stroke-width="4" shape-rendering="crispEdges"/>
<line x1="562.79" y1="1033" x2="562.79" y2="1423" stroke="#dedede" stroke-width="4" shape-rendering="crispEdges"/>
<line x1="743.82" y1="1033" x2="743.82" y2="1423" stroke="#dedede" stroke-width="4" shape-rendering="crispEdges"/>
<line x1="924.85" y1="1033" x2="924.85" y2="1423" stroke="#dedede" stroke-width="4" shape-rendering="crispEdges"/>
<line x1="1105.87" y1="1033" x2="1105.87" y2="1423" stroke="#dedede" stroke-width="4" shape-rendering="crispEdges"/>
<line x1="1286.90" y1="1033" x2="1286.90" y2="1423" stroke="#dedede" stroke-width="4" shape-rendering="crispEdges"/>
<line x1="1467.92" y1="1033" x2="1467.92" y2="1423" stroke="#dedede" stroke-width="4" shape-rendering="crispEdges"/>
<line x1="1648.95" y1="1033" x2="1648.95" y2="1423" stroke="#dedede" stroke-width="4" shape-rendering="crispEdges"/>
<line x1="1829.97" y1="1033" x2="1829.97" y2="1423" stroke="#dedede" stroke-width="4" shape-rendering="crispEdges"/>
<line x1="246" y1="1358.00" x2="2011" y2="1358.00" stroke="#dedede" stroke-width="4" shape-rendering="crispEdges"/>
<line x1="246" y1="1228.00" x2="2011" y2="1228.00" stroke="#dedede" stroke-width="4" shape-rendering="crispEdges"/>
<line x1="246" y1="1098.00" x2="2011" y2="1098.00" stroke="#dedede" stroke-width="4" shape-rendering="crispEdges"/>
<line x1="291.26" y1="1423.5" x2="291.26" y2="1033" stroke="#c2c2c2" stroke-width="3" shape-rendering="crispEdges" stroke-dasharray="4.8 11.46"/>
<line x1="336.51" y1="1423.5" x2="336.51" y2="1033" stroke="#c2c2c2" stroke-width="3" shape-rendering="crispEdges" stroke-dasharray="4.8 11.46"/>
<line x1="427.03" y1="1423.5" x2="427.03" y2="1033" stroke="#c2c2c2" stroke-width="3" shape-rendering="crispEdges" stroke-dasharray="4.8 11.46"/>
<line x1="472.28" y1="1423.5" x2="472.28" y2="1033" stroke="#c2c2c2" stroke-width="3" shape-rendering="crispEdges" stroke-dasharray="4.8 11.46"/>
<line x1="517.54" y1="1423.5" x2="517.54" y2="1033" stroke="#c2c2c2" stroke-width="3" shape-rendering="crispEdges" stroke-dasharray="4.8 11.46"/>
<line x1="608.05" y1="1423.5" x2="608.05" y2="1033" stroke="#c2c2c2" stroke-width="3" shape-rendering="crispEdges" stroke-dasharray="4.8 11.46"/>
<line x1="653.31" y1="1423.5" x2="653.31" y2="1033" stroke="#c2c2c2" stroke-width="3" shape-rendering="crispEdges" stroke-dasharray="4.8 11.46"/>
<line x1="698.56" y1="1423.5" x2="698.56" y2="1033" stroke="#c2c2c2" stroke-width="3" shape-rendering="crispEdges" stroke-dasharray="4.8 11.46"/>
<line x1="789.08" y1="1423.5" x2="789.08" y2="1033" stroke="#c2c2c2" stroke-width="3" shape-rendering="crispEdges" stroke-dasharray="4.8 11.46"/>
<line x1="834.33" y1="1423.5" x2="834.33" y2="1033" stroke="#c2c2c2" stroke-width="3" shape-rendering="crispEdges" stroke-dasharray="4.8 11.46"/>
<line x1="879.59" y1="1423.5" x2="879.59" y2="1033" stroke="#c2c2c2" stroke-width="3" shape-rendering="crispEdges" stroke-dasharray="4.8 11.46"/>
<line x1="970.10" y1="1423.5" x2="970.10" y2="1033" stroke="#c2c2c2" stroke-width="3" shape-rendering="crispEdges" stroke-dasharray="4.8 11.46"/>
<line x1="1015.36" y1="1423.5" x2="1015.36" y2="1033" stroke="#c2c2c2" stroke-width="3" shape-rendering="crispEdges" stroke-dasharray="4.8 11.46"/>
<line x1="1060.62" y1="1423.5" x2="1060.62" y2="1033" stroke="#c2c2c2" stroke-width="3" shape-rendering="crispEdges" stroke-dasharray="4.8 11.46"/>
<line x1="1151.13" y1="1423.5" x2="1151.13" y2="1033" stroke="#c2c2c2" stroke-width="3" shape-rendering="crispEdges" stroke-dasharray="4.8 11.46"/>
<line x1="1196.38" y1="1423.5" x2="1196.38" y2="1033" stroke="#c2c2c2" stroke-width="3" shape-rendering="crispEdges" stroke-dasharray="4.8 11.46"/>
<line x1="1241.64" y1="1423.5" x2="1241.64" y2="1033" stroke="#c2c2c2" stroke-width="3" shape-rendering="crispEdges" stroke-dasharray="4.8 11.46"/>
<line x1="1332.15" y1="1423.5" x2="1332.15" y2="1033" stroke="#c2c2c2" stroke-width="3" shape-rendering="crispEdges" stroke-dasharray="4.8 11.46"/>
<line x1="1377.41" y1="1423.5" x2="1377.41" y2="1033" stroke="#c2c2c2" stroke-width="3" shape-rendering="crispEdges" stroke-dasharray="4.8 11.46"/>
<line x1="1422.67" y1="1423.5" x2="1422.67" y2="1033" stroke="#c2c2c2" stroke-width="3" shape-rendering="crispEdges" stroke-dasharray="4.8 11.46"/>
<line x1="1513.18" y1="1423.5" x2="1513.18" y2="1033" stroke="#c2c2c2" stroke-width="3" shape-rendering="crispEdges" stroke-dasharray="4.8 11.46"/>
<line x1="1558.44" y1="1423.5" x2="1558.44" y2="1033" stroke="#c2c2c2" stroke-width="3" shape-rendering="crispEdges" stroke-dasharray="4.8 11.46"/>
<line x1="1603.69" y1="1423.5" x2="1603.69" y2="1033" stroke="#c2c2c2" stroke-width="3" shape-rendering="crispEdges" stroke-dasharray="4.8 11.46"/>
<line x1="1694.21" y1="1423.5" x2="1694.21" y2="1033" stroke="#c2c2c2" stroke-width="3" shape-rendering="crispEdges" stroke-dasharray="4.8 11.46"/>
<line x1="1739.46" y1="1423.5" x2="1739.46" y2="1033" stroke="#c2c2c2" stroke-width="3" shape-rendering="crispEdges" stroke-dasharray="4.8 11.46"/>
<line x1="1784.72" y1="1423.5" x2="1784.72" y2="1033" stroke="#c2c2c2" stroke-width="3" shape-rendering="crispEdges" stroke-dasharray="4.8 11.46"/>
<line x1="1875.23" y1="1423.5" x2="1875.23" y2="1033" stroke="#c2c2c2" stroke-width="3" shape-rendering="crispEdges" stroke-dasharray="4.8 11.46"/>
<line x1="1920.49" y1="1423.5" x2="1920.49" y2="1033" stroke="#c2c2c2" stroke-width="3" shape-rendering="crispEdges" stroke-dasharray="4.8 11.46"/>
<line x1="1965.74" y1="1423.5" x2="1965.74" y2="1033" stroke="#c2c2c2" stroke-width="3" shape-rendering="crispEdges" stroke-dasharray="4.8 11.46"/>
<line x1="2011.8" y1="1293.00" x2="246" y2="1293.00" stroke="#c2c2c2" stroke-width="4" shape-rendering="crispEdges" stroke-dasharray="5 11.26"/>
<line x1="2011.8" y1="1163.00" x2="246" y2="1163.00" stroke="#c2c2c2" stroke-width="4" shape-rendering="crispEdges" stroke-dasharray="5 11.26"/>
<clipPath id="cs5"><rect x="246" y="1033" width="1765" height="390"/></clipPath>
<path d="M244.00,1228.00C244.00,1228.00 290.50,1228.00 290.50,1228.00C290.50,1228.00 291.83,1230.60 292.00,1232.00C292.79,1238.46 292.88,1245.07 293.40,1251.60C294.05,1259.84 294.54,1268.10 295.50,1276.30C296.47,1284.53 297.97,1292.70 299.20,1300.90C300.44,1309.13 301.41,1317.41 302.90,1325.60C304.41,1333.85 306.01,1342.12 308.20,1350.20C309.91,1356.49 312.11,1362.70 314.60,1368.70C315.54,1370.97 316.83,1373.28 318.50,1375.00C319.83,1376.38 321.91,1378.00 323.60,1378.00C325.24,1378.00 327.18,1376.33 328.50,1375.00C330.25,1373.23 331.87,1371.04 332.80,1368.70C335.17,1362.77 336.62,1356.39 338.40,1350.20C340.75,1342.02 343.05,1333.83 345.20,1325.60C347.35,1317.40 349.44,1309.17 351.30,1300.90C353.14,1292.74 354.46,1284.46 356.30,1276.30C358.16,1268.03 360.22,1259.80 362.40,1251.60C364.59,1243.36 366.72,1235.08 369.40,1227.00C370.82,1222.74 372.49,1218.46 374.70,1214.60C376.02,1212.29 377.89,1210.05 380.00,1208.50C381.79,1207.18 384.27,1206.00 386.40,1206.00C388.44,1206.00 390.76,1207.24 392.50,1208.50C394.70,1210.10 396.72,1212.28 398.20,1214.60C400.65,1218.44 402.36,1222.82 404.30,1227.00C408.09,1235.16 411.71,1243.40 415.40,1251.60C419.11,1259.83 422.65,1268.14 426.50,1276.30C429.42,1282.50 432.14,1288.91 435.70,1294.70C437.30,1297.31 439.50,1299.86 442.00,1301.50C444.23,1302.96 447.30,1304.20 449.90,1304.00C453.36,1303.73 457.08,1301.90 460.20,1300.10C462.45,1298.80 464.18,1296.61 466.00,1294.70C469.33,1291.20 472.50,1287.54 475.66,1283.87C479.59,1279.30 483.37,1274.59 487.28,1270.00C491.10,1265.51 494.78,1260.88 498.87,1256.66C501.59,1253.84 504.46,1250.96 507.69,1248.88C509.55,1247.69 511.95,1246.90 514.11,1246.82C516.21,1246.74 518.49,1247.53 520.47,1248.39C523.48,1249.70 526.33,1251.53 529.11,1253.35C533.17,1256.01 537.04,1258.98 540.98,1261.81C545.46,1265.03 549.79,1268.46 554.39,1271.50C558.33,1274.10 562.29,1276.90 566.60,1278.71C569.95,1280.12 573.76,1281.14 577.36,1281.17C581.12,1281.21 585.02,1280.07 588.68,1278.94C593.09,1277.56 597.29,1275.46 601.56,1273.64C606.13,1271.70 610.56,1269.39 615.21,1267.66C619.64,1266.01 624.18,1264.34 628.81,1263.49C633.21,1262.68 637.83,1262.44 642.30,1262.66C646.84,1262.89 651.37,1263.91 655.84,1264.84C660.37,1265.78 664.81,1267.19 669.32,1268.30C673.65,1269.36 677.97,1270.57 682.35,1271.35C686.59,1272.10 690.91,1272.76 695.21,1272.90C700.29,1273.07 705.41,1272.69 710.49,1272.28C717.60,1271.69 724.67,1270.54 731.79,1269.90C741.02,1269.07 750.28,1268.18 759.54,1267.86C769.82,1267.51 780.13,1267.69 790.42,1267.89C800.74,1268.09 811.05,1268.81 821.37,1269.06C831.52,1269.31 841.67,1269.42 851.82,1269.38C861.90,1269.34 871.97,1268.95 882.04,1268.82C891.99,1268.69 901.94,1268.61 911.89,1268.62C921.92,1268.64 931.95,1268.85 941.98,1268.90C952.82,1268.95 963.66,1268.96 974.50,1268.94C987.03,1268.92 999.56,1268.78 1012.09,1268.77C1026.77,1268.75 1041.45,1268.77 1056.12,1268.84C1072.42,1268.91 1105.00,1269.20 1105.00,1269.20C1105.00,1269.20 1106.18,1266.44 1106.50,1265.00C1106.85,1263.44 1106.91,1261.81 1107.00,1260.20C1107.47,1252.01 1107.59,1243.78 1108.20,1235.60C1108.82,1227.35 1109.41,1219.06 1110.70,1210.90C1112.01,1202.63 1114.40,1194.53 1116.00,1186.30C1117.60,1178.10 1118.67,1169.79 1120.30,1161.60C1121.94,1153.36 1123.65,1145.11 1125.80,1137.00C1126.92,1132.78 1128.31,1128.55 1130.10,1124.60C1130.88,1122.88 1132.09,1121.16 1133.50,1120.00C1134.55,1119.13 1136.18,1118.50 1137.50,1118.50C1138.68,1118.50 1140.07,1119.19 1141.00,1120.00C1142.41,1121.23 1143.67,1122.88 1144.50,1124.60C1146.40,1128.55 1147.89,1132.78 1149.20,1137.00C1151.72,1145.12 1153.83,1153.37 1156.00,1161.60C1158.16,1169.81 1160.04,1178.09 1162.20,1186.30C1164.37,1194.53 1166.66,1202.72 1169.00,1210.90C1171.36,1219.15 1173.85,1227.37 1176.30,1235.60C1178.75,1243.81 1180.92,1252.11 1183.70,1260.20C1185.85,1266.48 1188.34,1272.68 1191.10,1278.70C1192.44,1281.61 1193.97,1284.60 1196.00,1287.00C1197.27,1288.50 1199.31,1290.40 1201.00,1290.40C1202.81,1290.40 1204.96,1288.47 1206.50,1287.00C1209.06,1284.57 1211.42,1281.72 1213.30,1278.70C1216.98,1272.79 1220.13,1266.48 1223.20,1260.20C1226.26,1253.94 1229.01,1247.53 1231.70,1241.10C1234.11,1235.33 1236.05,1229.35 1238.50,1223.60C1240.55,1218.79 1242.67,1213.96 1245.20,1209.40C1247.17,1205.86 1249.43,1202.40 1252.00,1199.30C1253.69,1197.26 1255.72,1195.25 1258.00,1194.00C1260.22,1192.78 1263.01,1191.90 1265.50,1191.90C1267.68,1191.90 1270.00,1192.96 1272.00,1194.00C1274.50,1195.30 1277.05,1196.85 1279.00,1198.90C1283.98,1204.12 1288.21,1210.15 1292.79,1215.79C1297.20,1221.23 1301.43,1226.84 1305.99,1232.15C1309.69,1236.46 1313.13,1241.32 1317.56,1244.66C1320.63,1246.97 1324.83,1249.18 1328.50,1249.11C1332.90,1249.02 1337.66,1246.41 1341.78,1244.17C1347.40,1241.12 1352.40,1236.87 1357.72,1233.23C1362.93,1229.67 1367.88,1225.59 1373.38,1222.57C1377.72,1220.19 1382.46,1217.91 1387.25,1217.03C1391.47,1216.25 1396.16,1216.73 1400.40,1217.62C1404.99,1218.58 1409.38,1220.74 1413.77,1222.56C1418.35,1224.46 1422.68,1226.95 1427.29,1228.77C1431.69,1230.51 1436.18,1232.26 1440.78,1233.25C1445.19,1234.20 1449.82,1234.61 1454.33,1234.58C1458.89,1234.55 1463.49,1233.84 1468.00,1233.08C1472.48,1232.31 1476.89,1231.07 1481.31,1229.98C1485.41,1228.98 1489.45,1227.69 1493.58,1226.81C1497.55,1225.96 1501.56,1225.14 1505.60,1224.79C1510.29,1224.39 1515.04,1224.37 1519.74,1224.56C1525.52,1224.79 1531.28,1225.45 1537.04,1226.05C1543.38,1226.71 1549.70,1227.69 1556.05,1228.32C1562.41,1228.95 1568.78,1229.61 1575.15,1229.85C1581.39,1230.08 1587.66,1229.96 1593.90,1229.71C1600.05,1229.46 1606.19,1228.79 1612.33,1228.34C1618.57,1227.88 1624.79,1227.25 1631.03,1226.99C1637.86,1226.70 1644.70,1226.61 1651.54,1226.69C1659.33,1226.77 1667.12,1227.19 1674.90,1227.45C1683.32,1227.73 1691.74,1228.14 1700.16,1228.30C1708.54,1228.45 1716.92,1228.44 1725.30,1228.38C1733.43,1228.31 1741.55,1228.02 1749.68,1227.90C1757.48,1227.78 1765.29,1227.65 1773.09,1227.64C1780.46,1227.63 1787.83,1227.79 1795.19,1227.86C1805.98,1227.96 1816.78,1228.11 1827.57,1228.14C1851.12,1228.21 1874.68,1228.18 1898.24,1228.16C1936.49,1228.14 2013.00,1228.00 2013.00,1228.00" fill="none" stroke="#e40000" stroke-width="6.4" shape-rendering="crispEdges" stroke-linejoin="round" stroke-linecap="round" clip-path="url(#cs5)"/>
<path d="M246,1033H2011V1423H246ZM381.77,1423v-18M381.77,1033v18M562.79,1423v-18M562.79,1033v18M743.82,1423v-18M743.82,1033v18M924.85,1423v-18M924.85,1033v18M1105.87,1423v-18M1105.87,1033v18M1286.90,1423v-18M1286.90,1033v18M1467.92,1423v-18M1467.92,1033v18M1648.95,1423v-18M1648.95,1033v18M1829.97,1423v-18M1829.97,1033v18M246,1358.00h18M2011,1358.00h-18M246,1228.00h18M2011,1228.00h-18M246,1098.00h18M2011,1098.00h-18" fill="none" stroke="#262626" stroke-width="4" stroke-linecap="square" shape-rendering="crispEdges"/>
<text x="221.5" y="1380.5" text-anchor="end" class="tk">59.8</text>
<text x="221.5" y="1250.5" text-anchor="end" class="tk">60</text>
<text x="221.5" y="1120.5" text-anchor="end" class="tk">60.2</text>
<text x="381.8" y="1505.7" text-anchor="middle" class="tk">10</text>
<rect x="353.11" y="1500.10" width="11.00" height="6.10" fill="#fff"/>
<rect x="370.11" y="1500.10" width="10.00" height="6.10" fill="#fff"/>
<text x="562.8" y="1505.7" text-anchor="middle" class="tk">20</text>
<text x="743.8" y="1505.7" text-anchor="middle" class="tk">30</text>
<text x="924.8" y="1505.7" text-anchor="middle" class="tk">40</text>
<text x="1105.9" y="1505.7" text-anchor="middle" class="tk">50</text>
<text x="1286.9" y="1505.7" text-anchor="middle" class="tk">60</text>
<text x="1467.9" y="1505.7" text-anchor="middle" class="tk">70</text>
<text x="1648.9" y="1505.7" text-anchor="middle" class="tk">80</text>
<text x="1830.0" y="1505.7" text-anchor="middle" class="tk">90</text>
<text x="2011.0" y="1505.7" text-anchor="middle" class="tk">100</text>
<rect x="1966.46" y="1500.10" width="11.00" height="6.10" fill="#fff"/>
<rect x="1983.46" y="1500.10" width="10.00" height="6.10" fill="#fff"/>
</g>
<text transform="translate(94,224.4) rotate(-90)" text-anchor="middle" class="lb yl">voltage (V)</text>
<text transform="translate(1094,224.4) rotate(-90)" text-anchor="middle" class="lb yl">voltage (V)</text>
<text transform="translate(94,652.2) rotate(-90)" text-anchor="middle" class="lb yl">voltage (V)</text>
<text transform="translate(1094,652.2) rotate(-90)" text-anchor="middle" class="lb yl">voltage (V)</text>
<text transform="translate(77.6,1223.8) rotate(-90)" text-anchor="middle" class="lb yl">frequency (Hz)</text>
<text x="626.8" y="1019.6" text-anchor="middle" class="lb">time(s)</text>
<text x="1628.9" y="1019.9" text-anchor="middle" class="lb">time(s)</text>
<text x="1128.4" y="1592.7" text-anchor="middle" class="lb">time(s)</text>
<text x="392.9" y="92.2" class="pv" textLength="588.2" lengthAdjust="spacing">PV power goes down</text>
<text x="583.0" y="331.5" class="tt" textLength="322.0" lengthAdjust="spacing">dc Voltage</text>
<text x="1585.1" y="176.0" class="tt" textLength="321.7" lengthAdjust="spacing">dc Voltage</text>
<text x="1395.0" y="406.6" class="pv" textLength="508.8" lengthAdjust="spacing">PV power goes up</text>
<text x="404.6" y="526.0" class="pv" textLength="587.2" lengthAdjust="spacing">PV power goes down</text>
<text x="458.1" y="661.9" class="tt" textLength="495.8" lengthAdjust="spacing">ac Voltage (rms)</text>
<text x="1458.8" y="704.7" class="tt" textLength="496.3" lengthAdjust="spacing">ac Voltage (rms)</text>
<text x="1407.0" y="809.6" class="pv" textLength="508.4" lengthAdjust="spacing">PV power goes up</text>
<text x="354.0" y="1133.3" class="pv" textLength="586.4" lengthAdjust="spacing">PV power goes down</text>
<text x="1278.5" y="1159.6" class="tt" textLength="653.6" lengthAdjust="spacing">ac System Frequency</text>
<text x="1155.7" y="1375.7" class="pv" textLength="509.3" lengthAdjust="spacing">PV power goes up</text>
<path d="M335.6,151.4L387.6,121.1L361.9,119.1L354.7,94.4Z" fill="#400040" stroke="#400040" stroke-width="1.2" stroke-linejoin="round" shape-rendering="crispEdges"/>
<line x1="361.9" y1="119.1" x2="371.15" y2="107.75" stroke="#400040" stroke-width="3.3" stroke-linecap="round" shape-rendering="crispEdges"/>
<path d="M1337.3,299.3L1356.6,356.3L1363.7,331.5L1389.4,329.4Z" fill="#400040" stroke="#400040" stroke-width="1.2" stroke-linejoin="round" shape-rendering="crispEdges"/>
<line x1="1363.7" y1="331.5" x2="1373.1" y2="343" stroke="#400040" stroke-width="3.3" stroke-linecap="round" shape-rendering="crispEdges"/>
<path d="M323.5,577.6L382.7,567.1L359.3,556.4L361.1,530.7Z" fill="#400040" stroke="#400040" stroke-width="1.2" stroke-linejoin="round" shape-rendering="crispEdges"/>
<line x1="359.3" y1="556.4" x2="381.7" y2="543.1" stroke="#400040" stroke-width="3.3" stroke-linecap="round" shape-rendering="crispEdges"/>
<path d="M1331.6,755.8L1369.8,802.3L1367.7,776.6L1391.0,765.5Z" fill="#400040" stroke="#400040" stroke-width="1.2" stroke-linejoin="round" shape-rendering="crispEdges"/>
<line x1="1367.7" y1="776.6" x2="1383.2" y2="785.5" stroke="#400040" stroke-width="3.3" stroke-linecap="round" shape-rendering="crispEdges"/>
<path d="M284.7,1227.5L331.5,1189.7L305.8,1191.6L294.9,1168.2Z" fill="#400040" stroke="#400040" stroke-width="1.2" stroke-linejoin="round" shape-rendering="crispEdges"/>
<line x1="305.8" y1="1191.6" x2="330.7" y2="1149.1" stroke="#400040" stroke-width="3.3" stroke-linecap="round" shape-rendering="crispEdges"/>
<path d="M1098.0,1268.2L1117.4,1325.1L1124.5,1300.4L1150.2,1298.2Z" fill="#400040" stroke="#400040" stroke-width="1.2" stroke-linejoin="round" shape-rendering="crispEdges"/>
<line x1="1124.5" y1="1300.4" x2="1133.4" y2="1311.2" stroke="#400040" stroke-width="3.3" stroke-linecap="round" shape-rendering="crispEdges"/>
</svg>
</body></html>
